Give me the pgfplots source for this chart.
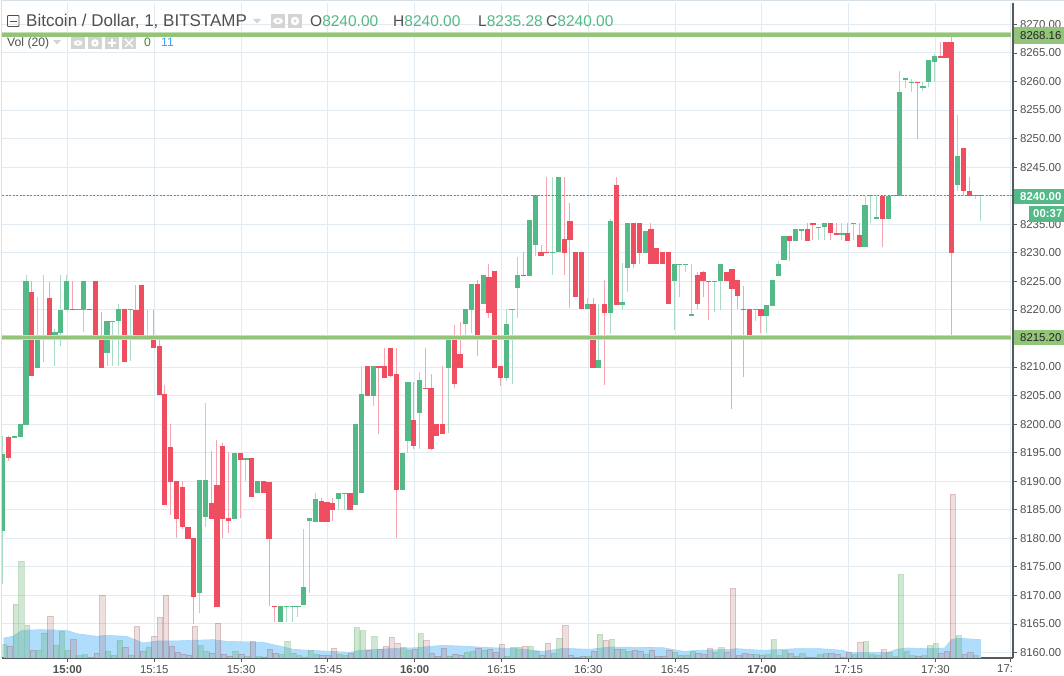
\documentclass[border=0pt]{standalone}
\usepackage{fontspec}
\setmainfont{Liberation Sans}
\usepackage{pgfplots}
\usepackage{pgfplotstable}
\pgfplotsset{compat=1.18}
\definecolor{upc}{RGB}{83,185,135}
\definecolor{dnc}{RGB}{238,78,95}
\definecolor{upw}{RGB}{168,220,196}
\definecolor{dnw}{RGB}{245,165,176}
\definecolor{gridc}{RGB}{226,235,242}
\definecolor{axc}{RGB}{85,90,95}
\definecolor{txt}{RGB}{80,80,80}
\definecolor{lvl}{RGB}{146,196,122}
\definecolor{lvll}{RGB}{196,224,178}
\definecolor{smaf}{RGB}{176,221,252}
\definecolor{smal}{RGB}{162,214,250}
\definecolor{icon}{RGB}{212,212,212}
\definecolor{vup}{RGB}{90,170,100}
\definecolor{vdn}{RGB}{160,80,80}
\definecolor{lastp}{RGB}{45,175,125}
\pgfplotstableread{
m o h l c
-11 8181.2 8198 8172 8194.8
-9 8197.6 8197.9 8197.6 8197.9
-8 8197.8 8200 8197.8 8200
-7 8199.9 8226.2 8199.9 8225.1
-5 8209.9 8222.2 8209.9 8215.2
-4 8215.0 8226.2 8210.9 8215.2
-2 8215.0 8216.7 8210.2 8216.2
-1 8216.0 8226.2 8213.7 8220.0
0 8219.9 8226.2 8219.9 8225.1
2 8220.0 8220.2 8220.0 8220.2
3 8220.0 8225.1 8216.2 8225.1
7 8212.5 8218.1 8210.1 8218.1
8 8218.0 8218.1 8210.1 8218.1
9 8218.0 8221.1 8210.1 8220.2
11 8220.0 8220.2 8211.1 8220.2
14 8215.0 8220.0 8215.0 8215.2
23 8170.4 8190.2 8167.0 8190.2
24 8183.8 8203.7 8181.9 8190.2
29 8183.3 8195.0 8183.3 8195.0
31 8193.8 8194.0 8190.0 8194.0
33 8187.9 8190.0 8187.9 8190.0
37 8165.3 8168.1 8165.3 8168.1
38 8167.9 8168.1 8165.4 8168.1
39 8167.9 8168.1 8165.4 8168.1
40 8167.9 8168.1 8166.3 8168.1
41 8168.3 8181.7 8168.3 8171.4
42 8183.1 8183.5 8170.4 8183.5
43 8182.8 8187.9 8182.8 8186.8
47 8186.8 8188.0 8185.0 8188.0
48 8187.9 8188.0 8185.0 8188.0
50 8185.9 8200.1 8185.9 8200.1
51 8188.0 8210.1 8188.0 8205.2
53 8205.0 8210.1 8203.1 8210.1
58 8188.4 8194.9 8188.4 8194.9
59 8197.1 8207.3 8194.9 8207.3
61 8201.9 8209.2 8195.6 8207.7
66 8209.9 8215.2 8198.5 8215.2
69 8217.6 8220.1 8215.2 8220.1
70 8219.9 8224.5 8215.9 8224.5
72 8221.1 8226.2 8221.1 8226.2
76 8208.0 8220.1 8207.5 8217.5
77 8219.9 8220.1 8207.0 8220.1
78 8223.9 8229.2 8218.5 8226.2
80 8226.0 8235.7 8226.0 8235.7
81 8231.3 8240.1 8229.4 8240.1
84 8229.9 8243.2 8226.2 8230.2
85 8230.1 8243.2 8230.1 8243.2
90 8220.1 8222.0 8220.1 8221.1
92 8209.9 8221.0 8209.9 8211.3
94 8219.4 8236.0 8215.7 8235.5
96 8220.8 8228.3 8220.1 8221.3
97 8227.3 8235.2 8223.2 8235.2
100 8229.9 8233.9 8229.9 8233.9
105 8225.0 8228.1 8216.4 8228.1
106 8227.8 8228.0 8222.2 8228.0
107 8227.8 8228.1 8226.6 8228.1
108 8219.0 8228.1 8219.0 8219.2
112 8225.0 8225.1 8219.7 8225.1
113 8225.0 8228.1 8219.9 8228.1
119 8219.9 8220.1 8218.1 8220.1
121 8219.0 8220.8 8215.9 8220.8
122 8220.6 8225.3 8220.6 8225.3
123 8226.0 8228.5 8226.0 8228.1
124 8228.8 8233.0 8228.8 8233.0
126 8232.0 8234.1 8232.0 8234.1
127 8233.9 8234.1 8232.2 8234.1
130 8234.5 8234.6 8232.2 8234.6
131 8234.5 8235.2 8232.2 8235.2
134 8233.2 8235.2 8232.2 8233.4
136 8235.0 8235.2 8232.2 8235.2
138 8231.0 8240.0 8231.0 8238.3
139 8239.9 8240.1 8235.2 8240.1
140 8236.0 8240.0 8236.0 8236.2
142 8236.0 8240.0 8236.0 8240.0
143 8239.9 8240.1 8239.9 8240.1
144 8240.0 8261.8 8240.0 8258.1
145 8260.2 8260.6 8258.8 8260.6
146 8259.9 8260.4 8258.1 8260.0
148 8258.8 8260.0 8258.3 8259.2
149 8259.9 8263.7 8259.0 8263.7
150 8263.5 8264.8 8260.0 8264.4
154 8241.8 8254.2 8240.8 8246.9
157 8239.9 8240.1 8239.4 8240.1
158 8239.9 8240.1 8235.5 8240.1
}\upT
\pgfplotstableread{
m o h l c
-10 8197.8 8198.0 8193.6 8194.0
-6 8223.2 8225.1 8208.4 8208.4
-3 8222.0 8224.8 8215.0 8215.0
1 8220.2 8225.1 8219.9 8219.9
4 8220.2 8220.2 8220.0 8220.0
5 8225.1 8225.1 8215.5 8215.5
6 8215.1 8219.7 8209.9 8209.9
10 8220.2 8220.2 8210.9 8210.9
12 8220.0 8224.4 8215.0 8215.0
13 8224.4 8224.4 8215.0 8215.0
15 8215.3 8219.9 8213.4 8213.4
16 8213.6 8215.1 8205.1 8205.1
17 8205.3 8206.9 8185.8 8185.8
18 8196.0 8200.0 8184.0 8189.9
19 8190.0 8190.0 8180.0 8183.3
20 8188.9 8190.0 8181.7 8181.9
21 8182.0 8182.0 8179.8 8179.8
22 8180.0 8180.0 8165.0 8169.8
25 8186.1 8195.3 8183.3 8183.3
26 8189.3 8197.2 8167.9 8167.9
27 8196.2 8196.7 8180.0 8183.3
28 8183.5 8195.1 8180.9 8183.1
30 8195.0 8195.0 8183.5 8193.8
32 8194.0 8194.0 8187.2 8187.2
34 8190.0 8190.0 8187.9 8187.9
35 8189.8 8189.8 8168.1 8179.8
36 8168.1 8168.1 8165.4 8167.9
44 8186.6 8187.0 8182.8 8182.8
45 8186.3 8186.3 8182.8 8182.8
46 8186.1 8187.0 8183.0 8184.9
49 8188.0 8188.0 8184.9 8184.9
52 8210.1 8210.1 8205.0 8205.0
54 8210.1 8210.1 8198.2 8209.9
55 8210.1 8213.4 8208.0 8208.0
56 8213.4 8213.4 8208.2 8208.5
57 8208.7 8213.3 8180.0 8188.4
60 8200.8 8207.3 8195.6 8196.1
62 8206.4 8213.3 8206.2 8206.2
63 8206.4 8208.7 8195.5 8195.7
64 8200.1 8200.1 8198.0 8198.0
65 8200.1 8210.1 8198.2 8198.2
67 8215.2 8217.3 8206.4 8207.0
68 8212.2 8217.8 8209.9 8209.9
71 8224.5 8225.2 8211.9 8214.8
73 8225.7 8228.1 8218.5 8219.4
74 8226.9 8226.9 8209.9 8209.9
75 8210.1 8210.1 8206.6 8208.0
79 8226.2 8230.1 8226.0 8226.0
82 8230.2 8231.3 8229.4 8229.4
83 8230.2 8243.2 8229.9 8229.9
86 8232.4 8243.2 8226.2 8229.9
87 8235.5 8238.8 8220.4 8232.2
88 8230.1 8230.1 8222.2 8222.2
89 8230.1 8230.1 8220.1 8220.1
91 8221.1 8222.0 8209.9 8209.9
93 8221.0 8225.2 8206.8 8219.4
95 8241.8 8243.2 8220.8 8220.8
98 8235.2 8235.2 8227.4 8228.0
99 8235.2 8235.2 8228.1 8229.9
101 8234.1 8235.2 8228.0 8228.0
102 8230.8 8230.8 8228.0 8228.0
103 8230.1 8230.1 8228.0 8228.0
104 8230.1 8230.1 8221.1 8221.1
109 8226.2 8226.7 8220.1 8221.0
110 8226.7 8226.9 8222.2 8225.0
111 8225.1 8225.1 8218.3 8225.0
114 8226.6 8226.6 8225.0 8225.0
115 8227.1 8227.1 8202.7 8223.6
116 8225.2 8225.2 8220.2 8222.5
117 8220.2 8224.1 8208.2 8219.9
118 8220.1 8220.1 8215.0 8215.0
120 8220.1 8220.1 8215.9 8219.0
125 8233.0 8233.0 8228.5 8232.0
128 8234.1 8235.2 8232.0 8232.0
129 8235.2 8235.2 8232.2 8234.8
132 8235.2 8235.2 8232.2 8233.4
133 8233.4 8235.2 8233.2 8233.2
135 8233.4 8235.2 8232.0 8232.0
137 8233.2 8235.2 8231.0 8231.0
141 8240.0 8240.0 8231.0 8236.0
147 8260.0 8260.0 8249.9 8259.9
151 8264.4 8267.0 8264.2 8264.2
152 8267.0 8267.0 8264.2 8264.2
153 8267.0 8268.2 8215.2 8230.0
155 8248.3 8248.3 8240.0 8240.8
156 8240.9 8243.2 8240.0 8240.0
}\dnT
% volume bars (height, hidden axis)
\pgfplotstableread{
m v
-11 40
-9 161
-8 290
-7 98
-5 23
-4 75
-2 38
-1 80
0 23
2 7
3 10
7 20
8 8
9 53
11 8
14 32
23 37
24 20
29 20
31 5
33 4
37 11
38 50
39 14
40 7
41 3
42 22
43 11
47 11
48 8
50 91
51 82
53 64
58 32
59 23
61 73
66 6
69 17
70 20
72 23
76 5
77 32
78 32
80 35
81 20
84 14
85 59
90 4
92 71
94 56
96 26
97 20
100 11
105 17
106 8
107 8
108 20
112 18
113 31
119 10
121 10
122 55
123 7
124 22
126 6
127 13
130 10
131 13
134 3
136 10
138 49
139 10
140 7
142 16
143 4
144 251
145 19
146 7
148 7
149 37
150 43
154 67
157 7
}\vupT
\pgfplotstableread{
m v
-10 35
-6 23
-3 125
1 55
4 2
5 14
6 188
10 32
12 94
13 20
15 65
16 122
17 188
18 35
19 17
20 11
21 8
22 95
25 14
26 104
27 11
28 6
30 11
32 49
34 3
35 26
36 14
44 8
45 8
46 29
49 14
52 23
54 26
55 34
56 62
57 44
60 26
62 52
63 14
64 5
65 29
67 11
68 8
71 29
73 26
74 17
75 41
79 35
82 8
83 44
86 98
87 8
88 1
89 4
91 20
93 53
95 26
98 23
99 20
101 23
102 5
103 5
104 23
109 14
110 10
111 28
114 16
115 208
116 7
117 13
118 10
120 7
125 13
128 3
129 2
132 13
133 10
135 16
137 46
141 25
147 4
151 13
152 19
153 491
155 10
156 16
}\vdnT
\pgfplotsset{common/.style={
  at={(0,0)}, anchor=south west, scale only axis, width=1011pt, height=655pt,
  xmin=-11.32, xmax=163.4}}
\newcommand{\px}[2]{(#1-2,658-#2)}
\begin{document}
\begin{tikzpicture}[x=1pt,y=1pt]
\path[use as bounding box] (-2,-18) rectangle (1062,658);
% price axis: grid, ticks
\begin{axis}[common, ymin=8159.04, ymax=8273.75,
  axis x line*=bottom, axis y line*=right,
  axis line style={draw=axc,line width=1.2pt,-},
  tick align=outside, major tick length=4pt,
  tick style={draw=axc,line width=0.8pt},
  xtick={0,15,...,150,163},
  xticklabels={\textbf{15:00},15:15,15:30,15:45,\textbf{16:00},16:15,16:30,16:45,\textbf{17:00},17:15,17:30,},
  ytick={8160,8165,...,8270},
  grid=major, grid style={draw=gridc,line width=1pt},
  tick label style={font=\fontsize{11.4}{12}\selectfont, text=txt},
  yticklabel style={xshift=-0.5pt,/pgf/number format/.cd,fixed,fixed zerofill,precision=2,1000 sep={},assume math mode=true},
]
\end{axis}
% volume and its moving average
\begin{axis}[common, hide axis, ymin=0, ymax=1965]
\addplot[draw=smal,fill=smaf,line width=0.6pt] coordinates {
(-11,60)(-9.4,65)(-7.9,83)(-4.8,85)(-0.1,83)(1.6,73)(5,65)(6.8,68)(10.2,65)(13.1,45)(15.4,51)(18.3,51)(21.7,53)(25.2,55)(27.5,50)(33.8,47)(36.1,38)(39,26)(41.9,23)(48.8,17)(50.5,23)(54.6,27)(60.3,31)(64.9,38)(69,35)(73,31)(77.6,28)(82.2,20)(85.7,29)(90.3,26)(93.7,33)(102.9,31)(106.4,20)(109.3,23)(114.5,26)(115.6,28)(120.2,23)(126,28)(130,28)(134,23)(135.2,16)(141.6,16)(143.3,26)(145,30)(148.5,28)(151.6,30)(152.8,56)(154.2,59)(157.8,55)} \closedcycle;
\addplot[ybar, bar width=5.3pt, bar shift=0pt, draw=vup, draw opacity=0.3, fill=vup, fill opacity=0.28, line width=0.5pt] table[x=m,y=v] {\vupT};
\addplot[ybar, bar width=5.3pt, bar shift=0pt, draw=vdn, draw opacity=0.3, fill=vdn, fill opacity=0.18, line width=0.5pt] table[x=m,y=v] {\vdnT};
\end{axis}
% candles and levels
\begin{axis}[common, hide axis, ymin=8159.04, ymax=8273.75]
\addplot[draw=none, mark=none, error bars/.cd, y dir=minus, y explicit, error mark=none,
  error bar style={line width=1pt,draw=upw}] table[x expr=\thisrow{m}-0.17, y=h, y error minus expr=\thisrow{h}-\thisrow{l}] {\upT};
\addplot[draw=none, mark=none, error bars/.cd, y dir=minus, y explicit, error mark=none,
  error bar style={line width=1pt,draw=dnw}] table[x expr=\thisrow{m}-0.17, y=h, y error minus expr=\thisrow{h}-\thisrow{l}] {\dnT};
\addplot[draw=none, mark=none, error bars/.cd, y dir=minus, y explicit, error mark=none,
  error bar style={line width=5.2pt,draw=upc}] table[x expr=\thisrow{m}-0.17, y=c, y error minus expr=\thisrow{c}-\thisrow{o}] {\upT};
\addplot[draw=none, mark=none, error bars/.cd, y dir=minus, y explicit, error mark=none,
  error bar style={line width=5.2pt,draw=dnc}] table[x expr=\thisrow{m}-0.17, y=o, y error minus expr=\thisrow{o}-\thisrow{c}] {\dnT};
\addplot[draw=lastp, line width=1pt, dash pattern=on 2pt off 1.5pt] coordinates {(-11.32,8240)(163.4,8240)};
\addplot[lvll, line width=5pt] coordinates {(-11.32,8268.16)(163.0,8268.16)};
\addplot[lvl, line width=3.4pt] coordinates {(-11.32,8268.16)(163.0,8268.16)};
\addplot[lvll, line width=5pt] coordinates {(-11.32,8215.2)(163.0,8215.2)};
\addplot[lvl, line width=3.4pt] coordinates {(-11.32,8215.2)(163.0,8215.2)};
\end{axis}
% frame
\draw[draw=gridc!90!gray,line width=1pt] \px{1.5}{658} -- \px{1.5}{1} -- \px{1064}{1};
% clipped last time label
\node[anchor=base west,inner sep=0pt,text=txt,font=\fontsize{11.4}{12}\selectfont] at \px{997}{673} {17:};
% price tags
\fill[lvl] \px{1014}{27} rectangle \px{1064}{44};
\node[anchor=west,inner sep=0pt,text=black!85,font=\fontsize{11.4}{12}\selectfont] at \px{1020}{36} {8268.16};
\fill[lvl] \px{1014}{330} rectangle \px{1064}{345};
\node[anchor=west,inner sep=0pt,text=black!85,font=\fontsize{11.4}{12}\selectfont] at \px{1020}{338} {8215.20};
\fill[upc] \px{1014}{189} rectangle \px{1064}{204};
\node[anchor=west,inner sep=0pt,text=white,font=\fontsize{11.4}{12}\selectfont\bfseries] at \px{1020}{197} {8240.00};
\fill[upc] \px{1029}{206} rectangle \px{1064}{222};
\node[anchor=west,inner sep=0pt,text=white,font=\fontsize{11.4}{12}\selectfont\bfseries] at \px{1033}{214} {00:37};
% title block
\draw[draw=txt,line width=0.8pt,rounded corners=0.8pt] \px{7.5}{15.5} rectangle \px{19}{26.5};
\draw[draw=txt,line width=0.8pt] \px{9.5}{21} -- \px{17}{21};
\node[anchor=base west,inner sep=0pt,text=txt,font=\fontsize{17}{18}\selectfont] at \px{26}{27} {Bitcoin / Dollar, 1, BITSTAMP};
\fill[icon] \px{253}{19} -- \px{261}{19} -- \px{257}{23.5} -- cycle;
\fill[icon] \px{271}{14} rectangle \px{285}{28};
\fill[white] \px{278}{21} ellipse (5 and 3.2);
\fill[icon] \px{278}{21} circle (1.6);
\fill[icon] \px{288}{14} rectangle \px{302}{28};
\fill[white] \px{295}{21} circle (4.3);
\fill[icon] \px{295}{21} circle (1.6);
\node[anchor=base west,inner sep=0pt,font=\fontsize{15.5}{16}\selectfont] at \px{310}{27} {\textcolor{txt}{O}\textcolor{upc}{8240.00}};
\node[anchor=base west,inner sep=0pt,font=\fontsize{15.5}{16}\selectfont] at \px{393}{27} {\textcolor{txt}{H}\textcolor{upc}{8240.00}};
\node[anchor=base west,inner sep=0pt,font=\fontsize{15.5}{16}\selectfont] at \px{478}{27} {\textcolor{txt}{L}\textcolor{upc}{8235.28}};
\node[anchor=base west,inner sep=0pt,font=\fontsize{15.5}{16}\selectfont] at \px{546}{27} {\textcolor{txt}{C}\textcolor{upc}{8240.00}};
\node[anchor=base west,inner sep=0pt,text=txt,font=\fontsize{12.2}{13}\selectfont] at \px{7}{47} {Vol (20)};
\fill[icon] \px{53}{40} -- \px{61}{40} -- \px{57}{44.5} -- cycle;
\foreach \a in {71,88,105,122} {\fill[icon] \px{\a}{37} rectangle \px{\a+14}{49};}
\fill[white] \px{78}{43} ellipse (4.5 and 2.8);
\fill[icon] \px{78}{43} circle (1.4);
\fill[white] \px{95}{43} circle (3.8);
\fill[icon] \px{95}{43} circle (1.4);
\draw[white,line width=1.4pt] \px{108}{43} -- \px{116}{43} \px{112}{39} -- \px{112}{47};
\draw[white,line width=1.2pt] \px{125}{39} -- \px{133}{47} \px{133}{39} -- \px{125}{47};
\node[anchor=base west,inner sep=0pt,text={rgb,255:red,60;green,140;blue,40},font=\fontsize{12.2}{13}\selectfont] at \px{144}{47} {0};
\node[anchor=base west,inner sep=0pt,text={rgb,255:red,60;green,160;blue,240},font=\fontsize{12.2}{13}\selectfont] at \px{161}{47} {11};
\end{tikzpicture}
\end{document}
